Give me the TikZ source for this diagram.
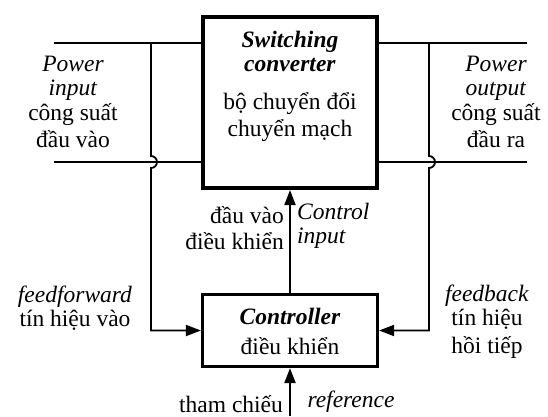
\documentclass[tikz,border=0pt]{standalone}
\usepackage{fontspec}
\setmainfont{Liberation Serif}
\usetikzlibrary{arrows.meta,positioning,calc}
\tikzset{
  convbox/.style={draw, line width=4pt, minimum width=174pt, minimum height=171pt},
  ctrlbox/.style={draw, line width=3.2pt, minimum width=175pt, minimum height=72pt},
  lbl/.style={align=center, inner sep=0pt, font=\fontsize{23.5}{24}\selectfont},
  wire/.style={line width=2pt},
  sense/.style={line width=1.8pt},
  arr/.style={-{Triangle[length=15pt, width=11pt]}, line width=2pt}}

\begin{document}
\begin{tikzpicture}[x=1pt,y=-1pt]
    \useasboundingbox (0,0) rectangle (548,416);
    \node[convbox] (conv) at (290,102.5) {};
    \node[ctrlbox] (ctrl) at (290,330.5) {};
    % power wires
    \coordinate (inT) at (54,43);
    \coordinate (inB) at (54,162);
    \coordinate (outT) at (527,43);
    \coordinate (outB) at (527,162);
    \draw[wire] (inT) -- (inT -| conv.west);
    \draw[wire] (inB) -- (inB -| conv.west);
    \draw[wire] (conv.east |- outT) -- (outT);
    \draw[wire] (conv.east |- outB) -- (outB);
    % sensing lines with hops
    \coordinate (ffTop) at (151,43);
    \coordinate (ffHop) at (151,162);
    \coordinate (fbTop) at (429,43);
    \coordinate (fbHop) at (429,162);
    \draw[sense, arr, line width=1.8pt] (ffTop) -- ([yshift=6pt]ffHop)
      arc[start angle=90, end angle=-90, radius=6pt] -- (ffTop |- ctrl.west) -- (ctrl.west);
    \draw[sense, arr, line width=1.8pt] (fbTop) -- ([yshift=6pt]fbHop)
      arc[start angle=90, end angle=-90, radius=6pt] -- (fbTop |- ctrl.east) -- (ctrl.east);
    % control and reference
    \coordinate (refIn) at (290,416);
    \draw[arr] (ctrl.north) -- (conv.south);
    \draw[arr] (refIn) -- (ctrl.south);
    % texts
    \node[lbl] (convtxt) at (290,86)
      {\textbf{\textit{Switching}}\\ \textbf{\textit{converter}}\\[14pt] bộ chuyển đổi\\[3pt] chuyển mạch};
    \node[lbl] (ctrltxt) at (290,331)
      {\textbf{\textit{Controller}}\\[6pt] điều khiển};
    \node[lbl] (pin) at (73,102)
      {\textit{Power}\\ \textit{input}\\[1pt] công suất\\[3pt] đầu vào};
    \node[lbl] (pout) at (496,102)
      {\textit{Power}\\ \textit{output}\\[1pt] công suất\\[3pt] đầu ra};
    \node[lbl, anchor=east, align=right] (cinvn) at (284,228) {đầu vào\\[2pt] điều khiển};
    \node[lbl, anchor=west, align=left] (cin) at (297,226) {\textit{Control}\\ \textit{input}};
    \node[lbl] (ff) at (75,308) {\textit{feedforward}\\ tín hiệu vào};
    \node[lbl] (fb) at (487,322) {\textit{feedback}\\ tín hiệu\\[4pt] hồi tiếp};
    \node[lbl] (refvn) at (231,404) {tham chiếu};
    \node[lbl] (ref) at (351,402) {\textit{reference}};
  \end{tikzpicture}
\end{document}
